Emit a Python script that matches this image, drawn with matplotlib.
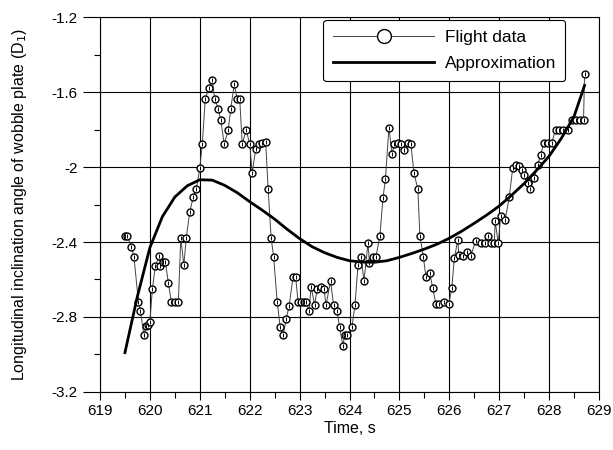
import numpy as np
import matplotlib.pyplot as plt

plt.rcParams['font.family'] = ['Liberation Sans', 'DejaVu Sans']
plt.rcParams['font.size'] = 11

# flight data: time (s) and wobble plate angle
t_flight = [619.50, 619.55, 619.63, 619.68, 619.77, 619.81, 619.88, 619.92, 619.97, 620.00,
            620.05, 620.11, 620.19, 620.21, 620.27, 620.31, 620.37, 620.43, 620.50, 620.57,
            620.62, 620.68, 620.73, 620.80, 620.87, 620.93, 621.00, 621.05, 621.11, 621.18,
            621.25, 621.30, 621.37, 621.42, 621.49, 621.57, 621.62, 621.69, 621.75, 621.80,
            621.85, 621.93, 622.00, 622.05, 622.12, 622.19, 622.25, 622.32, 622.37, 622.43,
            622.48, 622.55, 622.61, 622.67, 622.73, 622.79, 622.87, 622.92, 622.97, 623.03,
            623.08, 623.13, 623.19, 623.23, 623.30, 623.35, 623.42, 623.49, 623.53, 623.62,
            623.68, 623.75, 623.80, 623.87, 623.90, 623.95, 624.05, 624.11, 624.17, 624.23,
            624.29, 624.37, 624.40, 624.47, 624.53, 624.61, 624.67, 624.72, 624.79, 624.85,
            624.90, 624.97, 625.03, 625.10, 625.17, 625.23, 625.29, 625.37, 625.41, 625.48,
            625.53, 625.61, 625.67, 625.73, 625.80, 625.90, 625.99, 626.05, 626.10, 626.17,
            626.19, 626.27, 626.35, 626.43, 626.53, 626.63, 626.71, 626.77, 626.83, 626.90,
            626.92, 626.98, 627.03, 627.12, 627.20, 627.27, 627.33, 627.40, 627.45, 627.49,
            627.57, 627.62, 627.70, 627.77, 627.83, 627.89, 627.97, 628.05, 628.13, 628.20,
            628.27, 628.38, 628.45, 628.53, 628.62, 628.69, 628.71]
d_flight = [-2.370, -2.370, -2.425, -2.478, -2.718, -2.766, -2.896, -2.850, -2.843, -2.825,
            -2.650, -2.527, -2.475, -2.530, -2.505, -2.505, -2.617, -2.720, -2.720, -2.720,
            -2.377, -2.523, -2.377, -2.238, -2.158, -2.117, -2.007, -1.877, -1.637, -1.580,
            -1.536, -1.637, -1.690, -1.749, -1.877, -1.803, -1.690, -1.559, -1.637, -1.637,
            -1.877, -1.803, -1.877, -2.030, -1.906, -1.877, -1.870, -1.865, -2.119, -2.380,
            -2.478, -2.718, -2.852, -2.896, -2.812, -2.740, -2.585, -2.585, -2.720, -2.720,
            -2.720, -2.720, -2.766, -2.638, -2.736, -2.652, -2.638, -2.652, -2.736, -2.608,
            -2.736, -2.766, -2.852, -2.955, -2.896, -2.896, -2.852, -2.736, -2.523, -2.478,
            -2.606, -2.407, -2.510, -2.478, -2.478, -2.366, -2.167, -2.064, -1.790, -1.931,
            -1.877, -1.874, -1.877, -1.909, -1.874, -1.877, -2.030, -2.119, -2.367, -2.478,
            -2.585, -2.567, -2.647, -2.730, -2.730, -2.720, -2.730, -2.647, -2.487, -2.390,
            -2.470, -2.475, -2.455, -2.475, -2.393, -2.407, -2.407, -2.368, -2.407, -2.407,
            -2.290, -2.407, -2.260, -2.280, -2.162, -2.007, -1.989, -1.995, -2.016, -2.043,
            -2.087, -2.119, -2.060, -1.989, -1.936, -1.874, -1.874, -1.874, -1.800, -1.800,
            -1.800, -1.800, -1.749, -1.749, -1.749, -1.749, -1.504]

# approximation curve
t_appr = [619.50, 619.75, 620.00, 620.25, 620.50, 620.75, 621.00, 621.25, 621.50, 621.75,
          622.00, 622.25, 622.50, 622.75, 623.00, 623.25, 623.50, 623.75, 624.00, 624.25,
          624.50, 624.75, 625.00, 625.25, 625.50, 625.75, 626.00, 626.25, 626.50, 626.75,
          627.00, 627.25, 627.50, 627.75, 628.00, 628.25, 628.50, 628.71]
d_appr = [-2.990, -2.690, -2.430, -2.265, -2.160, -2.100, -2.068, -2.070, -2.098, -2.137,
          -2.185, -2.230, -2.278, -2.332, -2.382, -2.425, -2.457, -2.482, -2.500, -2.507,
          -2.508, -2.500, -2.482, -2.461, -2.438, -2.412, -2.380, -2.342, -2.300, -2.256,
          -2.208, -2.150, -2.088, -2.017, -1.942, -1.845, -1.730, -1.565]

fig = plt.figure(figsize=(6.13, 4.5), dpi=100)
ax = fig.add_axes([0.1631, 0.1289, 0.8141, 0.8333])

ax.plot(t_flight, d_flight, color='#444444', lw=0.7, marker='o', ms=5,
        mfc='white', mec='black', mew=1.0, label='Flight data', zorder=3)
ax.plot(t_flight, d_flight, ls='none', marker='|', ms=3.5, mec='black', mew=0.7, zorder=4)
ax.plot(t_appr, d_appr, color='black', lw=2.0, label='Approximation', zorder=5)

ax.set_xlim(619, 629)
ax.set_ylim(-3.2, -1.2)
ax.set_xticks(np.arange(619, 629.5, 1))
ax.set_xticks(np.arange(619.5, 629, 1), minor=True)
ax.set_yticks(np.arange(-3.2, -1.15, 0.4))
ax.set_yticks(np.arange(-3.0, -1.3, 0.4), minor=True)
ax.set_yticklabels(['-3.2', '-2.8', '-2.4', '-2', '-1.6', '-1.2'])
ax.tick_params(which='both', colors='black', width=0.8, labelsize=11)
ax.tick_params(axis='x', which='major', direction='out', length=6, pad=3)
ax.tick_params(axis='x', which='minor', direction='out', length=4)
ax.tick_params(axis='y', which='major', direction='out', length=12, pad=4)
ax.tick_params(axis='y', which='minor', direction='out', length=4)
ax.grid(True, which='major', color='black', lw=0.8)
for s in ax.spines.values():
    s.set_linewidth(0.8)

ax.set_xlabel('Time, s', fontsize=11.5, labelpad=2)
ax.set_ylabel('Longitudinal inclination angle of wobble plate (D$_1$)', fontsize=11.5, labelpad=16)

leg = ax.legend(loc='upper left', bbox_to_anchor=(0.447, 0.993, 0.485, 0.0), mode='expand',
                fontsize=12.5, handlelength=5.8, handletextpad=0.6, markerscale=2.0,
                borderpad=0.6, labelspacing=0.6, borderaxespad=0.0,
                fancybox=True, framealpha=1, edgecolor='black')
leg.get_frame().set_linewidth(0.8)

plt.savefig('out.png', dpi=100)
